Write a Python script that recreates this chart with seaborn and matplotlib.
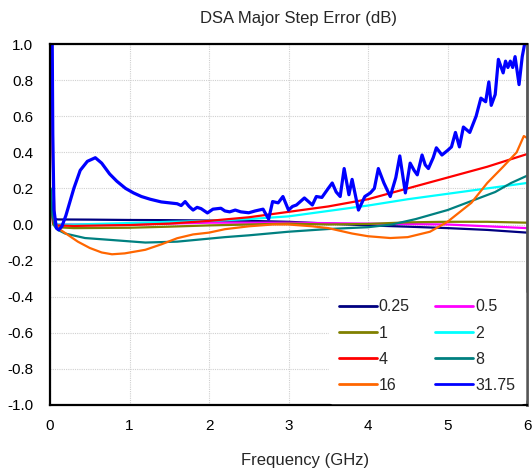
import matplotlib
matplotlib.use('Agg')
import matplotlib.pyplot as plt
import seaborn as sns
import pandas as pd
from matplotlib.ticker import MultipleLocator, FormatStrFormatter

# ------------------------------------------------------------------
# Datos (frecuencia en GHz, error en dB)
# ------------------------------------------------------------------
f_025 = [0.01, 0.03, 0.06, 0.1, 0.5, 1.0, 1.5, 2.0, 2.5, 3.0, 3.5, 4.0, 4.5, 5.0, 5.5, 6.0]
e_025 = [0.15, 0.05, 0.03, 0.028, 0.027, 0.025, 0.024, 0.022, 0.02, 0.015, 0.005, -0.005, -0.012, -0.02, -0.03, -0.045]

f_05 = [0.01, 0.04, 0.08, 0.5, 1.0, 1.5, 2.0, 3.0, 4.0, 5.0, 5.5, 6.0]
e_05 = [0.12, 0.02, 0.0, 0.0, 0.0, 0.005, 0.01, 0.01, 0.005, 0.0, -0.01, -0.02]

f_1 = [0.01, 0.04, 0.08, 0.3, 1.0, 1.5, 2.0, 2.5, 3.0, 3.5, 4.0, 4.5, 5.0, 5.5, 6.0]
e_1 = [0.12, 0.0, -0.015, -0.02, -0.018, -0.012, -0.005, 0.0, 0.005, 0.0, 0.003, 0.012, 0.015, 0.015, 0.01]

f_2 = [0.01, 0.04, 0.08, 0.3, 1.0, 1.5, 2.0, 2.5, 3.0, 3.5, 4.0, 4.5, 5.0, 5.5, 6.0]
e_2 = [0.15, 0.02, 0.0, 0.0, 0.008, 0.015, 0.02, 0.03, 0.045, 0.075, 0.105, 0.14, 0.17, 0.2, 0.23]

f_4 = [0.01, 0.04, 0.08, 0.3, 1.0, 1.5, 2.0, 2.5, 3.0, 3.5, 4.0, 4.5, 5.0, 5.5, 6.0]
e_4 = [0.13, 0.01, -0.005, -0.008, -0.003, 0.005, 0.02, 0.04, 0.07, 0.1, 0.14, 0.2, 0.26, 0.32, 0.39]

f_8 = [0.01, 0.03, 0.06, 0.1, 0.19, 0.44, 0.78, 1.2, 1.6, 2.2, 2.5, 3.0, 3.5, 4.0, 4.3, 4.6,
       5.0, 5.3, 5.6, 5.8, 6.0]
e_8 = [0.2, 0.05, -0.01, -0.03, -0.05, -0.075, -0.086, -0.1, -0.095, -0.07, -0.06, -0.04, -0.025,
       -0.015, 0.0, 0.03, 0.08, 0.13, 0.18, 0.23, 0.27]

f_16 = [0.01, 0.03, 0.06, 0.1, 0.2, 0.35, 0.5, 0.65, 0.78, 0.94, 1.2, 1.4, 1.6, 1.8, 2.0, 2.2,
        2.5, 2.8, 3.0, 3.3, 3.5, 3.8, 4.0, 4.28, 4.5, 4.78, 5.0, 5.3, 5.5, 5.7, 5.87, 5.96, 6.0]
e_16 = [1.2, 0.4, 0.02, -0.02, -0.05, -0.095, -0.13, -0.155, -0.165, -0.16, -0.14, -0.11, -0.076,
        -0.055, -0.045, -0.026, -0.01, 0.0, 0.0, -0.01, -0.02, -0.05, -0.065, -0.075, -0.07, -0.04,
        0.015, 0.12, 0.23, 0.32, 0.40, 0.49, 0.48]

f_3175 = [0.02, 0.035, 0.05, 0.08, 0.11, 0.15, 0.2, 0.3, 0.38, 0.47, 0.57, 0.65, 0.75, 0.84, 0.95,
          1.05, 1.15, 1.26, 1.4, 1.5, 1.6, 1.65, 1.7, 1.75, 1.8, 1.85, 1.9, 1.98, 2.05, 2.15, 2.2,
          2.26, 2.33, 2.4, 2.5, 2.58, 2.68, 2.75, 2.8, 2.87, 2.93, 3.0, 3.05, 3.1, 3.2, 3.3, 3.35,
          3.42, 3.5, 3.55, 3.6, 3.65, 3.7, 3.76, 3.8, 3.88, 3.96, 4.03, 4.08, 4.13, 4.2, 4.28, 4.35,
          4.4, 4.47, 4.53, 4.58, 4.62, 4.68, 4.72, 4.76, 4.82, 4.86, 4.93, 5.0, 5.05, 5.1, 5.15,
          5.2, 5.28, 5.36, 5.42, 5.48, 5.52, 5.55, 5.6, 5.64, 5.7, 5.73, 5.76, 5.79, 5.82, 5.85,
          5.9, 5.94, 5.97, 6.0]
e_3175 = [1.6, 0.5, 0.08, -0.02, -0.03, -0.01, 0.05, 0.2, 0.30, 0.35, 0.37, 0.34, 0.28, 0.24, 0.2,
          0.175, 0.155, 0.14, 0.125, 0.12, 0.115, 0.105, 0.127, 0.1, 0.08, 0.095, 0.088, 0.064, 0.085,
          0.09, 0.075, 0.07, 0.08, 0.07, 0.065, 0.075, 0.085, 0.03, 0.127, 0.12, 0.155, 0.08, 0.1,
          0.108, 0.147, 0.108, 0.155, 0.15, 0.2, 0.23, 0.18, 0.155, 0.31, 0.165, 0.25, 0.08, 0.155,
          0.175, 0.2, 0.31, 0.23, 0.155, 0.26, 0.38, 0.175, 0.34, 0.3, 0.275, 0.385, 0.33, 0.31, 0.37,
          0.425, 0.385, 0.41, 0.43, 0.51, 0.43, 0.54, 0.51, 0.6, 0.70, 0.68, 0.79, 0.66, 0.72, 0.915,
          0.84, 0.905, 0.87, 0.905, 0.87, 0.93, 0.775, 0.93, 1.0, 1.05]

etiquetas = ["0.25", "0.5", "1", "2", "4", "8", "16", "31.75"]
colores = ["#000080", "#FF00FF", "#808000", "#00FFFF", "#FF0000", "#008080", "#FF6600", "#0000FF"]
series = [(f_025, e_025), (f_05, e_05), (f_1, e_1), (f_2, e_2), (f_4, e_4),
          (f_8, e_8), (f_16, e_16), (f_3175, e_3175)]

# ------------------------------------------------------------------
# Grafico
# ------------------------------------------------------------------
sns.set_style("white")
plt.rcParams['font.family'] = ['Liberation Sans', 'DejaVu Sans']

fig = plt.figure(figsize=(5.32, 4.72), dpi=100)
ax = fig.add_axes([50 / 532, 1 - 405 / 472, 477 / 532, 361 / 472])

for etiqueta, color, (fx, ey) in zip(etiquetas, colores, series):
    df = pd.DataFrame({"Frecuencia": fx, "Error": ey})
    lw = 2.3 if etiqueta == "31.75" else 1.6
    sns.lineplot(data=df, x="Frecuencia", y="Error", color=color, linewidth=lw,
                 label=etiqueta, ax=ax, sort=False)

ax.set_xlim(0, 6)
ax.set_ylim(-1, 1)
ax.xaxis.set_major_locator(MultipleLocator(1))
ax.xaxis.set_minor_locator(MultipleLocator(0.2))
ax.yaxis.set_major_locator(MultipleLocator(0.2))
ax.yaxis.set_major_formatter(FormatStrFormatter('%.1f'))
ax.tick_params(axis='both', which='major', direction='in', length=5, width=1,
               labelsize=11, pad=9, colors='black')
ax.tick_params(axis='x', which='minor', direction='in', length=3, width=0.8)
ax.tick_params(axis='x', which='major', pad=10)
ax.tick_params(axis='y', which='major', pad=12)
ax.grid(True, which='major', color='#d0d0d0', linestyle=(0, (1, 1)), linewidth=0.8)

for lado in ['left', 'bottom', 'top']:
    ax.spines[lado].set_color('black')
    ax.spines[lado].set_linewidth(1.6)
ax.spines['right'].set_color('#555555')
ax.spines['right'].set_linewidth(2)

ax.set_ylabel("")
ax.set_xlabel("Frequency (GHz)", fontsize=12)
ax.xaxis.set_label_coords(0.535, -0.133)
fig.text(298 / 532, 1 - 18 / 472, "DSA Major Step Error (dB)", ha='center', va='center',
         fontsize=12)

# Leyenda en 2 columnas, ordenada por filas como el original
handles, labels = ax.get_legend_handles_labels()
orden = [0, 2, 4, 6, 1, 3, 5, 7]
leg = ax.legend([handles[i] for i in orden], [labels[i] for i in orden], ncol=2,
                loc='lower right', bbox_to_anchor=(1.0, 0.0), frameon=True,
                fontsize=11.5, handlelength=2.4, handletextpad=0.1, columnspacing=1.6,
                labelspacing=0.7, borderpad=0.6, borderaxespad=0.15)
leg.get_frame().set_edgecolor('white')
leg.get_frame().set_facecolor('white')
leg.get_frame().set_alpha(1)
for l in leg.get_lines():
    l.set_linewidth(2)

plt.savefig("out.png", dpi=100)
plt.close()
